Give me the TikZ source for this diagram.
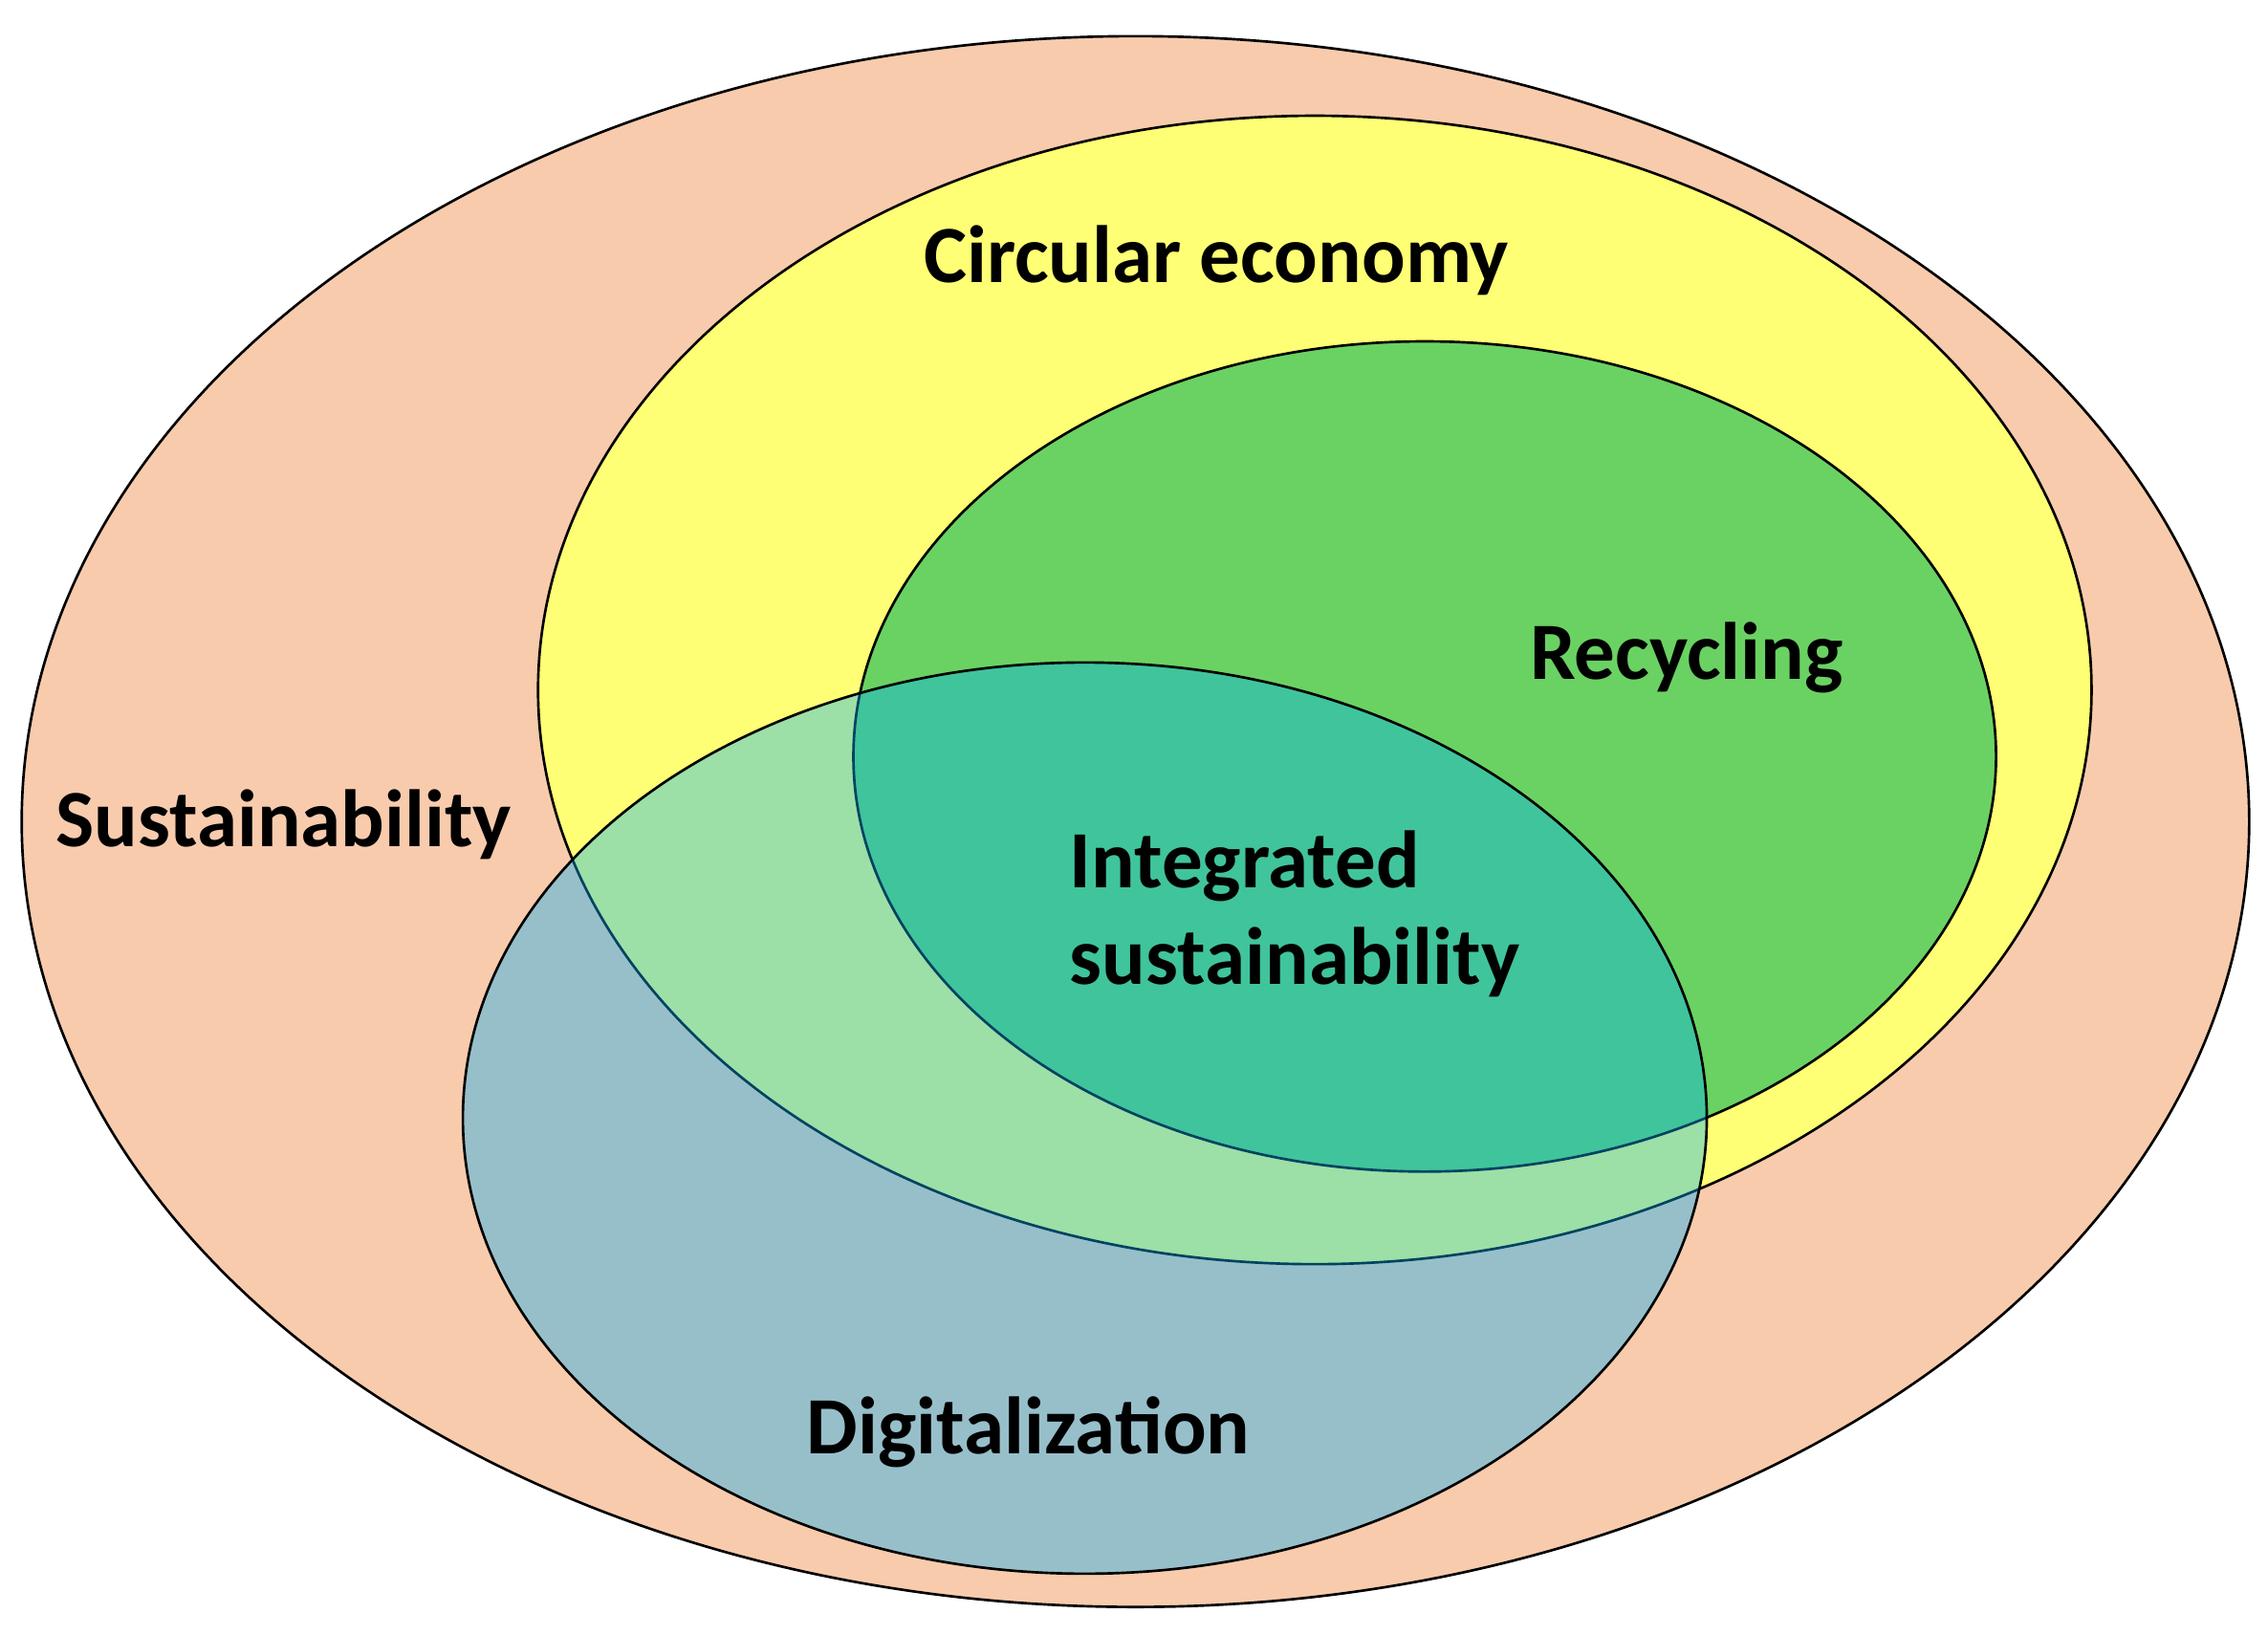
\documentclass[tikz,border=0pt]{standalone}
\usepackage{fontspec}
\setmainfont{Carlito}
\begin{document}
\begin{tikzpicture}[x=0.1mm,y=-0.1mm,
  lab/.style={font=\bfseries\fontsize{16}{19}\selectfont,text=black,align=left},
  ring/.style={draw=black,line width=0.5pt}]
\useasboundingbox (0,0) rectangle (1568,1130);
\draw[ring,fill={rgb,255:red,248;green,203;blue,173}] (785,568) ellipse [x radius=770,y radius=543];
\draw[ring,fill={rgb,255:red,255;green,255;blue,117}] (909,477) ellipse [x radius=537,y radius=397];
\draw[ring,fill={rgb,255:red,106;green,210;blue,98}] (985,523) ellipse [x radius=395,y radius=287];
\draw[ring,fill={rgb,255:red,0;green,174;blue,248},fill opacity=0.39] (750,773) ellipse [x radius=430,y radius=315];
\node[lab] (ce) at (841,180) {Circular economy};
\node[lab] (rc) at (1166,455) {Recycling};
\node[lab] (su) at (196,570) {Sustainability};
\node[lab] (is) at (895,632) {Integrated\\sustainability};
\node[lab] (di) at (711,990) {Digitalization};
\end{tikzpicture}
\end{document}
